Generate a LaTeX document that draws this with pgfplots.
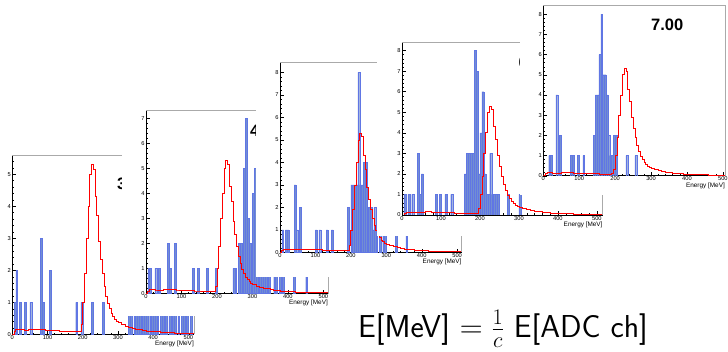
\RequirePackage{fix-cm}
\documentclass[border=0pt]{standalone}
\usepackage[no-math]{fontspec}
\setmainfont{Liberation Sans}
\usepackage{pgfplots}
\pgfplotsset{compat=1.18}
\usepackage{pgfplotstable}
\definecolor{histfill}{RGB}{114,142,210}
\definecolor{histline}{RGB}{96,118,228}
\definecolor{fitred}{RGB}{255,0,0}
\definecolor{framegray}{RGB}{170,170,170}

\pgfplotstableread{
x y
0 0
5 0.10
10 0.15
15 0.15
20 0.15
25 0.14
30 0.14
35 0.13
40 0.13
45 0.14
50 0.15
55 0.15
60 0.16
65 0.16
70 0.16
75 0.15
80 0.15
85 0.14
90 0.14
95 0.13
100 0.13
105 0.12
110 0.12
115 0.12
120 0.11
125 0.11
130 0.11
135 0.10
140 0.10
145 0.10
150 0.10
155 0.09
160 0.09
165 0.09
170 0.08
175 0.08
180 0.08
185 0.08
190 0.10
195 0.30
200 1.00
205 1.90
210 3.00
215 4.00
220 5.00
225 5.30
230 5.15
235 4.30
240 3.70
245 2.90
250 2.35
255 1.90
260 1.50
265 1.20
270 0.98
275 0.80
280 0.66
285 0.56
290 0.48
295 0.42
300 0.37
310 0.30
320 0.26
330 0.22
340 0.19
350 0.16
360 0.14
370 0.12
380 0.10
390 0.09
400 0.08
420 0.06
440 0.05
460 0.04
480 0.035
500 0.03
515 0.03
}\redcurve

\pgfplotstableread{
x y
7.5 1
12.5 2
22.5 1
37.5 1
52.5 1
82.5 3
87.5 1
107.5 2
182.5 1
197.5 1
227.5 1
257.5 1
332.5 1
337.5 1
347.5 1
352.5 1
357.5 1
362.5 1
367.5 1
372.5 1
377.5 1
382.5 1
387.5 1
397.5 1
402.5 1
407.5 1
412.5 1
422.5 1
427.5 1
432.5 1
437.5 1
447.5 1
452.5 1
457.5 1
462.5 1
472.5 1
482.5 1
487.5 1
497.5 1
507.5 1
}\histA

\pgfplotstableread{
x y
7.5 1
12.5 1
27.5 1
37.5 1
62.5 2
67.5 1
82.5 2
132.5 1
147.5 1
172.5 1
197.5 1
247.5 1
252.5 1
262.5 2
267.5 2
272.5 2
277.5 5
282.5 7
287.5 3
292.5 2
297.5 2
302.5 4
307.5 5
312.5 1
317.5 1
322.5 1
327.5 1
332.5 1
337.5 1
342.5 1
347.5 1
362.5 1
367.5 1
377.5 1
382.5 1
387.5 1
417.5 1
452.5 1
}\histB

\pgfplotstableread{
x y
7.5 1
17.5 1
22.5 1
42.5 3
47.5 1
57.5 2
102.5 1
112.5 1
132.5 1
147.5 1
192.5 2
202.5 3
207.5 3
212.5 3
217.5 3
222.5 8
227.5 3
232.5 3
237.5 4
242.5 4
247.5 2
252.5 2
257.5 2
262.5 1
267.5 2
272.5 1
282.5 1
292.5 1
297.5 1
327.5 1
357.5 1
}\histC

\pgfplotstableread{
x y
7.5 1
17.5 1
27.5 1
42.5 3
47.5 1
52.5 2
87.5 1
97.5 1
112.5 1
127.5 1
162.5 2
167.5 3
172.5 3
177.5 3
182.5 3
187.5 8
192.5 7
197.5 2
202.5 4
207.5 6
212.5 2
217.5 1
222.5 1
227.5 3
232.5 1
237.5 1
242.5 1
247.5 1
272.5 1
302.5 1
}\histD

\pgfplotstableread{
x y
17.5 1
22.5 1
37.5 4
47.5 2
77.5 1
82.5 1
97.5 1
112.5 1
142.5 2
147.5 4
152.5 4
157.5 6
162.5 8
167.5 5
172.5 5
177.5 4
182.5 2
187.5 1
192.5 1
197.5 2
202.5 2
232.5 1
257.5 1
}\histE

\pgfplotsset{
 rootax/.style={
  scale only axis, xmin=0, ymin=0,
  axis lines*=left, axis line style={-, black, line width=0.4pt},
  tick align=inside, major tick length=3.5pt, minor tick length=1.8pt,
  tick style={black, line width=0.3pt},
  xtick={0,100,...,500}, minor x tick num=4,
  ytick distance=1, minor y tick num=4,
  /pgf/number format/assume math mode=true,
  tick label style={font=\fontsize{5.7}{6}\selectfont},
  xticklabel style={inner sep=1pt}, yticklabel style={inner sep=1.2pt},
  xlabel={Energy [MeV]},
  xlabel style={at={(axis description cs:1,0)}, anchor=north east, yshift=-6.5pt, inner sep=0pt, font=\fontsize{6.4}{7}\selectfont},
  extra description/.code={\draw[framegray, line width=0.5pt] (0,1) -- (1,1) -- (1,0);},
 },
 histo/.style={ybar, bar width=5, bar shift=0pt, fill=histfill, draw=histline, line width=0.25pt},
 fit/.style={const plot, draw=fitred, fill=none, line width=0.7pt, no marks, line join=miter},
}

\begin{document}
\begin{tikzpicture}[x=1pt,y=1pt]
\path[use as bounding box] (0,0) rectangle (728,351);
\fill[white] (0,0) rectangle (728,351);

% Panel 1
\begin{axis}[rootax, at={(12.3pt,16.7pt)}, anchor=south west, width=181.7pt, height=179.3pt, xmax=516, ymax=5.6]
\addplot[histo] table {\histA};
\addplot[fit] table {\redcurve};
\end{axis}
\node[anchor=west, inner sep=0pt, font=\bfseries\fontsize{16.5}{18}\selectfont] at (117,167) {3.00};

% Panel 2
\fill[white] (122,35) rectangle (340,256);
\begin{axis}[rootax, at={(146pt,57.5pt)}, anchor=south west, width=182pt, height=183.5pt, xmax=513, ymax=7.33]
\addplot[histo] table {\histB};
\addplot[fit] table {\redcurve};
\end{axis}
\node[anchor=west, inner sep=0pt, font=\bfseries\fontsize{16.5}{18}\selectfont] at (250,220) {4.00};

% Panel 3
\fill[white] (256,74) rectangle (470,306);
\begin{axis}[rootax, at={(280pt,98.5pt)}, anchor=south west, width=181.7pt, height=190.2pt, xmax=513, ymax=8.45]
\addplot[histo] table {\histC};
\addplot[fit] table {\redcurve};
\end{axis}
\node[anchor=west, inner sep=0pt, font=\bfseries\fontsize{16.5}{18}\selectfont] at (386,267) {5.00};

% Panel 4
\fill[white] (377,115) rectangle (610,326);
\begin{axis}[rootax, at={(402pt,136pt)}, anchor=south west, width=200.7pt, height=172.7pt, xmax=515, ymax=8.4]
\addplot[histo] table {\histD};
\addplot[fit] table {\redcurve};
\end{axis}
\node[anchor=west, inner sep=0pt, font=\bfseries\fontsize{18}{20}\selectfont] at (518.5,289) {6.00};

% Panel 5
\fill[white] (520,156) rectangle (728,351);
\begin{axis}[rootax, at={(543.3pt,175.3pt)}, anchor=south west, width=181.7pt, height=170pt, xmax=506, ymax=8.42]
\addplot[histo] table {\histE};
\addplot[fit] table {\redcurve};
\end{axis}
\node[anchor=west, inner sep=0pt, font=\bfseries\fontsize{16.5}{18}\selectfont] at (651,326) {7.00};

% Formula
\node[anchor=base west, inner sep=0pt, font=\sffamily\fontsize{31.7}{36}\selectfont] at (358,14) {E[MeV] $=\frac{1}{c}$ E[ADC ch]};
\end{tikzpicture}
\end{document}
